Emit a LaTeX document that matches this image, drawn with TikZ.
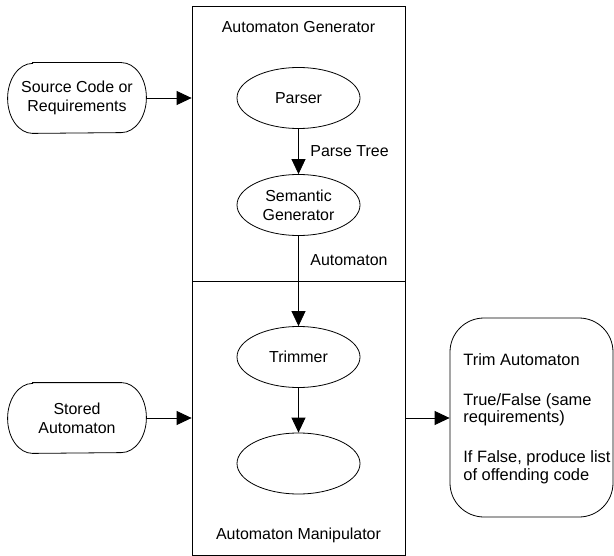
\documentclass[tikz,border=0pt]{standalone}
\usepackage{fontspec}
\setmainfont{Liberation Sans}
\usetikzlibrary{shapes.geometric,arrows.meta}
\newcommand{\termoutline}[1]{%
  \draw ([xshift=25bp]#1.north west) -- ([xshift=-25bp]#1.north east)
    arc[start angle=90,end angle=-90,x radius=25bp,y radius=35bp]
    -- ([xshift=25bp]#1.south west)
    arc[start angle=270,end angle=90,x radius=25bp,y radius=35bp] -- cycle;}
\begin{document}
\begin{tikzpicture}[x=1bp,y=-1bp,line width=0.8bp,
  every node/.style={font=\fontsize{16}{19}\selectfont},
  ell/.style={draw, ellipse, minimum width=123bp, minimum height=61bp, inner sep=0pt, align=center},
  term/.style={minimum width=138bp, minimum height=70bp, inner sep=0pt, align=center},
  part/.style={draw, rectangle, minimum width=213bp, inner sep=0pt},
  arr/.style={-{Triangle[length=15bp,width=14bp]}},
  lbl/.style={anchor=west, inner sep=0pt}]
\useasboundingbox (0,0) rectangle (614,556);
% system boxes
\node[part, minimum height=275bp] (gen) at (298.5,143.5) {};
\node[part, minimum height=274bp] (man) at (298.5,418) {};
\node (gentitle) at (298.5,27) {Automaton Generator};
\node (mantitle) at (298.5,535) {Automaton Manipulator};
% process ellipses
\node[ell] (parser) at (298.5,98) {Parser};
\node[ell] (sem) at (298.5,205) {Semantic\\Generator};
\node[ell] (trim) at (298.5,357) {Trimmer};
\node[ell] (blank) at (298.5,463.5) {};
% terminals
\node[term] (src) at (77,98) {Source Code or\\Requirements};
\termoutline{src}
\node[term] (stored) at (77,418) {Stored\\Automaton};
\termoutline{stored}
% output
\node[draw, rounded corners=34bp, minimum width=163bp, minimum height=199bp, inner sep=0pt] (out) at (531.5,417.5) {};
\node[anchor=west, align=left, inner sep=0pt, font=\fontsize{16.5}{17.5}\selectfont] (outtxt) at (463,418.5)
  {Trim Automaton\\[22.5bp]True/False (same\\requirements)\\[22.5bp]If False, produce list\\of offending code};
% connectors
\draw[arr] (src.east) -- (src.east -| gen.west);
\draw[arr] (parser) -- (sem);
\draw[arr] (sem) -- (trim);
\draw[arr] (trim) -- (blank);
\draw[arr] (stored.east) -- (man.west);
\draw[arr] (man.east) -- (man.east -| out.west);
% connector labels
\node[lbl] (ptlbl) at (310,151) {Parse Tree};
\node[lbl] (autlbl) at (310,260) {Automaton};
\end{tikzpicture}
\end{document}
